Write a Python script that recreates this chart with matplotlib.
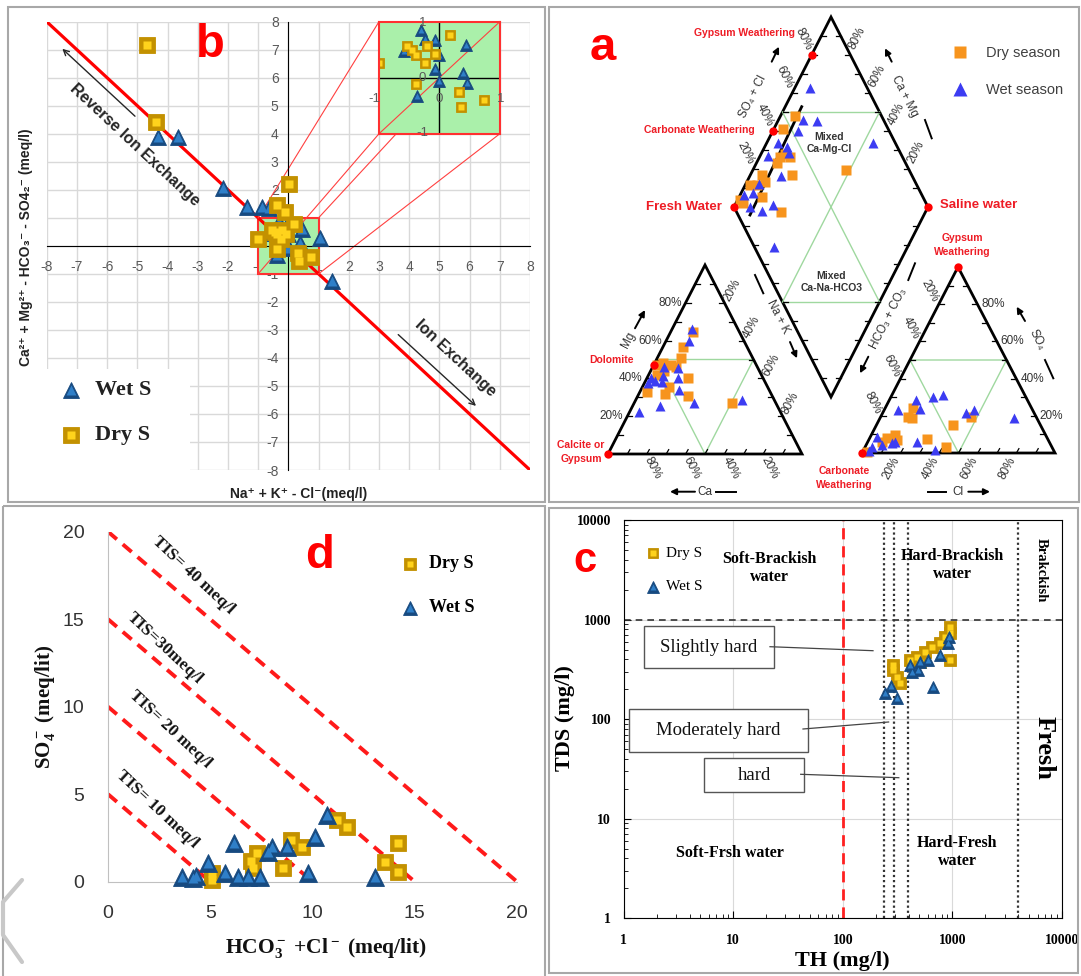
import numpy as np
import matplotlib.pyplot as plt
from matplotlib.patches import Rectangle, Polygon
from matplotlib.ticker import NullFormatter

plt.rcParams['axes.unicode_minus'] = False
plt.rcParams['mathtext.fontset'] = 'custom'
plt.rcParams['mathtext.rm'] = 'Liberation Serif:bold'
plt.rcParams['mathtext.it'] = 'Liberation Serif:bold'
plt.rcParams['mathtext.bf'] = 'Liberation Serif:bold'

W, H = 1081, 976

# ---- panel b: ion exchange (meq/l)
b_dry_x = [-4.69, -4.38, 0.03, -0.36, -0.11, -1.00, -0.54, -0.45, -0.39, -0.20, -0.08, -0.23, -0.39, 0.18, 0.32, 0.74, 0.35]
b_dry_y = [7.17, 4.43, 2.21, 1.46, 1.22, 0.26, 0.56, 0.50, 0.41, 0.56, 0.43, 0.26, -0.11, 0.77, -0.26, -0.39, -0.53]
b_wet_x = [-4.30, -3.64, -2.15, -1.38, -0.88, -0.65, 1.45, 1.04, -0.31, -0.23, -0.07, -0.59, 0.00, 0.44, -0.08, 0.00, 0.39, 0.46, -0.37]
b_wet_y = [3.88, 3.88, 2.06, 1.38, 1.38, 1.35, -1.27, 0.27, 0.85, 0.69, 0.67, 0.47, 0.41, 0.59, 0.15, -0.06, 0.09, -0.09, -0.33]

# ---- panel a: Piper diagram (percent of meq)
cat_dry_mg = [64.7, 56.4, 50.6, 47.0, 48.0, 47.0, 40.0, 35.6, 30.7, 33.0, 31.7, 26.8, 42.0, 44.0, 46.0]
cat_dry_na = [11.6, 10.6, 12.3, 1.6, 4.5, 9.0, 21.0, 13.7, 25.7, 3.4, 13.5, 50.4, 4.0, 7.0, 12.0]
cat_wet_mg = [66.0, 60.0, 45.9, 45.3, 40.0, 38.3, 40.4, 37.4, 41.2, 33.9, 25.6, 27.1, 28.6, 22.4, 38.7]
cat_wet_na = [10.2, 11.8, 5.9, 13.6, 2.2, 8.5, 15.7, 2.1, 7.7, 19.6, 14.2, 30.9, 54.6, 4.9, 5.0]

an_dry_so4 = [19.5, 24.0, 18.6, 15.0, 19.5, 7.4, 3.1, 9.7, 7.9, 7.0, 0.5, 6.1]
an_dry_cl = [14.2, 14.6, 16.4, 39.8, 47.0, 29.8, 42.0, 12.3, 8.9, 14.5, 2.4, 7.2]
an_wet_so4 = [28.5, 30.3, 31.2, 23.1, 23.5, 21.7, 23.1, 18.6, 6.1, 1.6, 5.2, 8.8, 3.4, 4.3, 1.0, 6.0]
an_wet_cl = [13.7, 21.8, 26.2, 7.3, 18.3, 43.0, 46.5, 69.6, 25.3, 37.0, 12.8, 3.2, 3.3, 8.0, 3.0, 14.0]

dia_dry_an = [55.4, 45.9, 37.0, 40.2, 42.1, 33.5, 38.2, 22.7, 14.0, 17.5, 22.6, 16.8, 5.0, 5.9, 22.8, 67.3]
dia_dry_na = [7.5, 5.0, 10.5, 12.3, 15.6, 10.5, 21.3, 5.8, 2.5, 5.9, 9.3, 11.7, 1.2, 3.7, 25.3, 47.9]
dia_wet_an = [70.4, 58.3, 65.3, 52.9, 88.4, 39.3, 43.4, 42.7, 31.1, 32.4, 8.3, 13.7, 8.3, 13.3, 20.5, 10.0, 19.0]
dia_wet_na = [8.0, 12.5, 20.0, 12.7, 54.6, 5.8, 11.6, 14.4, 4.3, 16.1, 2.0, 6.2, 8.3, 15.2, 19.5, 31.2, 7.0]

# ---- panel d: TIS plot (meq/lit)
d_dry_x = [5.07, 5.07, 7.10, 7.27, 7.00, 8.54, 8.93, 9.47, 11.18, 11.67, 13.55, 14.20, 14.20]
d_dry_y = [0.10, 0.48, 0.76, 1.62, 1.20, 0.76, 2.38, 2.00, 3.52, 3.14, 1.14, 2.19, 0.57]
d_wet_x = [3.60, 4.17, 4.30, 4.90, 5.72, 6.16, 6.37, 6.86, 7.43, 7.84, 8.00, 8.74, 9.79, 10.12, 10.69, 13.06]
d_wet_y = [0.29, 0.19, 0.35, 1.05, 0.48, 2.19, 0.29, 0.29, 0.29, 1.71, 2.00, 2.00, 0.48, 2.57, 3.81, 0.29]
d_tis_sum = [5, 10, 15, 20]
d_tis_labels = ['TIS= 10 meq/l', 'TIS= 20 meq/l', 'TIS=30meq/l', 'TIS= 40 meq/l']

# ---- panel c: TDS vs TH (mg/l)
c_dry_th = [951, 951, 856, 771, 647, 562, 472, 410, 951, 289, 289, 310, 333, 506]
c_dry_tds = [847, 727, 672, 577, 533, 475, 423, 392, 392, 349, 311, 267, 229, 377]
c_wet_th = [243, 274, 310, 425, 489, 410, 506, 603, 771, 918, 937, 670]
c_wet_tds = [182, 215, 162, 299, 311, 349, 377, 392, 440, 577, 672, 211]
c_th_bounds = [240, 295, 390, 4000]
c_soft_limit = 100
c_fresh_limit = 1000

SANS = ['Liberation Sans', 'DejaVu Sans']
SERIF = ['Liberation Serif', 'DejaVu Serif']
GOLD = ('#c39100', '#ffd31c')
BLUE = ('#174a80', '#2f7fc8')

fig = plt.figure(figsize=(W / 100, H / 100), dpi=100)


def px_axes(l, t, r, b, **kw):
    return fig.add_axes([l / W, 1 - b / H, (r - l) / W, (b - t) / H], **kw)


def ftxt(x, y, s, **kw):
    kw.setdefault('ha', 'center')
    kw.setdefault('va', 'center')
    return fig.text(x / W, 1 - y / H, s, **kw)


def bevel(ax, x, y, marker, ms, dark, light, **kw):
    ax.plot(x, y, ls='none', marker=marker, ms=ms, mfc=dark, mec=dark, mew=0.6, **kw)
    ax.plot(x, y, ls='none', marker=marker, ms=ms * 0.55, mfc=light, mec='none', **kw)


# ================= panel b =================
ax = px_axes(46.7, 21.7, 530, 470)
ax.set_xlim(-8, 8)
ax.set_ylim(-8, 8)
ax.set_xticks(np.arange(-8, 9))
ax.set_yticks(np.arange(-8, 9))
ax.grid(color='#d9d9d9', lw=1)
ax.set_axisbelow(True)
ax.spines[['top', 'right']].set_visible(False)
ax.spines['left'].set_position(('data', 0))
ax.spines['bottom'].set_position(('data', 0))
ax.tick_params(length=0, labelsize=10, labelcolor='#595959', labelfontfamily=SANS)
ax.tick_params(axis='x', pad=10)
ax.tick_params(axis='y', pad=7)

ax.add_patch(Rectangle((-1, -1), 2, 2, fc='#aaf0aa', ec='#ff3030', lw=1.5, zorder=1.5))
ax.plot([-8, 8], [8, -8], color='#ff0000', lw=2.3, zorder=2)
for (x0, y0), (x1, y1) in [((-1, 1), (3, 8)), ((1, 1), (7, 8)), ((-1, -1), (3, 4)), ((1, -1), (7, 4))]:
    ax.plot([x0, x1], [y0, y1], color='#ff4040', lw=0.8, zorder=2)
bevel(ax, b_wet_x, b_wet_y, '^', 12, *BLUE, zorder=3)
bevel(ax, b_dry_x, b_dry_y, 's', 11.5, *GOLD, zorder=3)

# legend
ax.add_patch(Rectangle((-8, -8), 4.75, 3.6, fc='white', ec='none', zorder=1))
bevel(ax, [-7.2], [-5.14], '^', 12, *BLUE, zorder=3)
bevel(ax, [-7.2], [-6.74], 's', 11, *GOLD, zorder=3)
ax.text(-6.4, -5.14, 'Wet S', fontsize=16, weight='bold', family=SERIF, va='center', color='#222')
ax.text(-6.4, -6.74, 'Dry S', fontsize=16, weight='bold', family=SERIF, va='center', color='#222')

ax.text(-5.08, 3.6, 'Reverse Ion Exchange', rotation=-43, rotation_mode='anchor', ha='center',
        va='center', fontsize=11.5, weight='bold', color='#262626', family=SANS)
ax.annotate('', xy=(-7.55, 7.1), xytext=(-5.01, 4.56),
            arrowprops=dict(arrowstyle='->', color='#262626', lw=1))
ax.text(5.54, -4.0, 'Ion Exchange', rotation=-43, rotation_mode='anchor', ha='center',
        va='center', fontsize=11.5, weight='bold', color='#262626', family=SANS)
ax.annotate('', xy=(6.28, -5.78), xytext=(3.57, -3.1),
            arrowprops=dict(arrowstyle='->', color='#262626', lw=1))

# zoomed window of the [-1, 1] square
axin = ax.inset_axes([3, 4, 4, 4], transform=ax.transData, zorder=4)
axin.set_xlim(-1, 1)
axin.set_ylim(-1, 1)
axin.set_facecolor('#aaf0aa')
for s in axin.spines.values():
    s.set_color('#ff3030')
    s.set_linewidth(1.5)
axin.set_xticks([])
axin.set_yticks([])
axin.axhline(0, color='k', lw=1)
axin.axvline(0, color='k', lw=1)
axin.plot([-1, 1], [-1, 1], color='#ff4040', lw=0.8)
bx, by = np.array(b_wet_x), np.array(b_wet_y)
m = (np.abs(bx) <= 1) & (np.abs(by) <= 1)
bevel(axin, bx[m], by[m], '^', 8, *BLUE)
bx, by = np.array(b_dry_x), np.array(b_dry_y)
m = (np.abs(bx) <= 1) & (np.abs(by) <= 1)
bevel(axin, bx[m], by[m], 's', 7, *GOLD)
for x, y, s in [(-0.28, 0.97, '1'), (-0.28, 0.0, '0'), (-0.28, -0.99, '-1'),
                (-1.08, -0.38, '-1'), (0.0, -0.38, '0'), (1.02, -0.38, '1')]:
    axin.text(x, y, s, fontsize=9.5, color='#595959', family=SANS, ha='center', va='center', clip_on=False)

ftxt(210, 45, 'b', color='#ff0000', fontsize=34, weight='bold', family=SANS)
ftxt(26, 247, 'Ca²⁺ + Mg²⁺ - HCO₃⁻ - SO4₂⁻ (meq/l)', rotation=90, fontsize=10, weight='bold', family=SANS, color='#222')
ftxt(299, 494, 'Na⁺ + K⁺ - Cl⁻(meq/l)', fontsize=10, weight='bold', family=SANS, color='#222')

# ================= panel d =================
axd = px_axes(108, 531.7, 517, 881.7)
axd.set_xlim(0, 20)
axd.set_ylim(0, 20)
axd.spines[['top', 'right']].set_visible(False)
for s in ['left', 'bottom']:
    axd.spines[s].set_color('#c0c0c0')
axd.set_xticks(np.arange(0, 21, 5))
axd.set_yticks(np.arange(0, 21, 5))
axd.tick_params(length=0, labelsize=14, labelcolor='#333', labelfontfamily=SANS)
axd.tick_params(axis='x', pad=17)
axd.tick_params(axis='y', pad=17)
for s in d_tis_sum:
    axd.plot([0, s], [s, 0], color='#ff1a1a', lw=2.8, ls=(0, (3, 2)), zorder=2)
bevel(axd, d_dry_x, d_dry_y, 's', 11.5, *GOLD, zorder=3, clip_on=False)
bevel(axd, d_wet_x, d_wet_y, '^', 13, *BLUE, zorder=3, clip_on=False)

for (x, y), s in zip([(157, 809), (170, 729), (165, 648), (193, 575)], d_tis_labels):
    ftxt(x, y, s, rotation=-43, rotation_mode='anchor', fontsize=12.5, weight='bold', family=SERIF, color='#111')
ftxt(320, 556, 'd', color='#ff0000', fontsize=34, weight='bold', family=SANS)
ftxt(45, 707, r'SO$_4^-$ (meq/lit)', rotation=90, fontsize=15, weight='bold', family=SERIF, color='#111')
ftxt(326, 948, r'HCO$_3^-$ +Cl$^-$ (meq/lit)', fontsize=15.5, weight='bold', family=SERIF, color='#111')

# ================= panel c =================
axc = px_axes(623.6, 520, 1062, 918.3)
axc.set_xscale('log')
axc.set_yscale('log')
axc.set_xlim(1, 1e4)
axc.set_ylim(1, 1e4)
dec = [1, 10, 100, 1000, 10000]
axc.set_xticks(dec, labels=[str(v) for v in dec], fontsize=10, fontweight='bold', fontfamily=SERIF)
axc.set_yticks(dec, labels=[str(v) for v in dec], fontsize=10, fontweight='bold', fontfamily=SERIF)
axc.xaxis.set_minor_formatter(NullFormatter())
axc.yaxis.set_minor_formatter(NullFormatter())
axc.tick_params(which='both', direction='in')
axc.tick_params(which='major', length=5)
axc.tick_params(which='minor', length=3)
axc.tick_params(axis='x', which='major', pad=11)
axc.tick_params(axis='y', which='major', pad=9)
axc.grid(which='major', color='#d9d9d9', lw=0.8)
axc.set_axisbelow(True)
for v in c_th_bounds:
    axc.axvline(v, color='#333', ls=(0, (1, 1.3)), lw=1.6, zorder=2)
axc.axvline(c_soft_limit, color='#ff2020', ls=(0, (4, 2.5)), lw=2, zorder=2)
axc.axhline(c_fresh_limit, color='#333', ls=(0, (4, 3)), lw=1.2, zorder=2)
bevel(axc, c_dry_th, c_dry_tds, 's', 8, *GOLD, zorder=3)
bevel(axc, c_wet_th, c_wet_tds, '^', 9, *BLUE, zorder=3)

ftxt(585, 561, 'c', color='#ff0000', fontsize=30, weight='bold', family=SANS)
ftxt(769, 568, 'Soft-Brackish\nwater', fontsize=11.5, weight='bold', family=SERIF, linespacing=1.1)
ftxt(952, 565, 'Hard-Brackish\nwater', fontsize=11.5, weight='bold', family=SERIF, linespacing=1.1)
ftxt(1041, 570, 'Brakckish', rotation=-90, fontsize=10.5, weight='bold', family=SERIF)
ftxt(1044, 748, 'Fresh', rotation=-90, fontsize=19, weight='bold', family=SERIF)
ftxt(730, 853, 'Soft-Frsh water', fontsize=11.5, weight='bold', family=SERIF)
ftxt(957, 852, 'Hard-Fresh\nwater', fontsize=11.5, weight='bold', family=SERIF, linespacing=1.1)
ftxt(565, 718, 'TDS (mg/l)', rotation=90, fontsize=16, weight='bold', family=SERIF)
ftxt(842, 961, 'TH (mg/l)', fontsize=16, weight='bold', family=SERIF)

# ================= overlay (pixel coordinates) =================
ov = fig.add_axes([0, 0, 1, 1], zorder=10)
ov.set_xlim(0, W)
ov.set_ylim(H, 0)
ov.axis('off')
ov.patch.set_alpha(0)

# panel frames
for l, t, r, b in [(8, 7, 545, 502), (549, 7, 1079, 502), (3, 506, 545, 990), (549, 508, 1078, 973)]:
    ov.add_patch(Rectangle((l, t), r - l, b - t, fill=False, ec='#a8a8a8', lw=1.5))
ov.plot([22, 3, 3, 22], [880, 902, 935, 962], color='#c8c8c8', lw=3, solid_capstyle='round')

# hardness boxes in panel c
for (l, t, r, b), s, (x0, y0, x1, y1) in [
        ((643.5, 626, 774, 668), 'Slightly hard', (770, 646.7, 873, 650.7)),
        ((629.4, 709, 807.6, 752.3), 'Moderately hard', (803, 729, 888.6, 722)),
        ((704.3, 758.3, 803.8, 791.7), 'hard', (800.7, 774.3, 898.8, 777.7))]:
    ov.add_patch(Rectangle((l, t), r - l, b - t, fc='white', ec='#555', lw=1))
    ov.text((l + r) / 2, (t + b) / 2, s, fontsize=13.5, family=SERIF, ha='center', va='center', color='#111')
    ov.plot([x0, x1], [y0, y1], color='#444', lw=0.9)

# legends of c and d
bevel(ov, [652.7], [553.3], 's', 7, *GOLD)
bevel(ov, [652.7], [586.7], '^', 8, *BLUE)
ov.text(666, 553.3, 'Dry S', fontsize=11, family=SERIF, va='center')
ov.text(666, 586.7, 'Wet S', fontsize=11, family=SERIF, va='center')
bevel(ov, [410], [564], 's', 9, *GOLD)
bevel(ov, [410], [608], '^', 10, *BLUE)
ov.text(429, 564, 'Dry S', fontsize=13, weight='bold', family=SERIF, va='center')
ov.text(429, 608, 'Wet S', fontsize=13, weight='bold', family=SERIF, va='center')

# ================= panel a: Piper diagram =================
CL_BL, CL_BR, CL_T = np.array([608, 454.]), np.array([802, 454.]), np.array([705, 265.])
AN_BL, AN_BR, AN_T = np.array([862, 453.]), np.array([1055, 453.]), np.array([958, 267.])
D_L, D_T, D_R, D_B = np.array([734, 207.]), np.array([831, 17.]), np.array([928, 207.]), np.array([831, 397.])


def cat_xy(mg, na):
    mg, na = np.asarray(mg)[:, None] / 100, np.asarray(na)[:, None] / 100
    p = (1 - mg - na) * CL_BL + na * CL_BR + mg * CL_T
    return p[:, 0], p[:, 1]


def an_xy(so4, cl):
    so4, cl = np.asarray(so4)[:, None] / 100, np.asarray(cl)[:, None] / 100
    p = (1 - so4 - cl) * AN_BL + cl * AN_BR + so4 * AN_T
    return p[:, 0], p[:, 1]


def dia_xy(an, na):
    an, na = np.asarray(an)[:, None] / 100, np.asarray(na)[:, None] / 100
    p = D_L + an * (D_T - D_L) + na * (D_B - D_L)
    return p[:, 0], p[:, 1]


def mid(p, q):
    return (p + q) / 2


for pts in [(CL_BL, CL_BR, CL_T), (AN_BL, AN_BR, AN_T)]:
    a, b, c = pts
    tri = [mid(a, c), mid(c, b), mid(a, b)]
    ov.add_patch(Polygon(tri, closed=True, fill=False, ec='#9fd89f', lw=1))
ul, ur, ll, lr = mid(D_L, D_T), mid(D_T, D_R), mid(D_L, D_B), mid(D_B, D_R)
for p, q in [(ul, ur), (ll, lr), (ul, lr), (ur, ll)]:
    ov.plot([p[0], q[0]], [p[1], q[1]], color='#9fd89f', lw=1)


def edge_ticks(p, q, d):
    for f in np.arange(0.1, 1.0, 0.1):
        s = p + f * (q - p)
        ov.plot([s[0], s[0] + d[0]], [s[1], s[1] + d[1]], color='k', lw=0.9)


slope = np.array([0.5, -0.87]) * 5
edge_ticks(CL_BL, CL_T, (5, 0))
edge_ticks(CL_T, CL_BR, (-5, 0))
edge_ticks(CL_BL, CL_BR, slope)
edge_ticks(AN_BL, AN_T, (5, 0))
edge_ticks(AN_T, AN_BR, (-5, 0))
edge_ticks(AN_BL, AN_BR, slope)
edge_ticks(D_L, D_T, (5, 0))
edge_ticks(D_T, D_R, (-5, 0))
edge_ticks(D_L, D_B, (5, 0))
edge_ticks(D_B, D_R, (-5, 0))

for pts in [(CL_BL, CL_BR, CL_T), (AN_BL, AN_BR, AN_T), (D_L, D_T, D_R, D_B)]:
    ov.add_patch(Polygon(pts, closed=True, fill=False, ec='k', lw=2, joinstyle='miter'))
ov.plot([750, 801.7], [215, 106.7], color='k', lw=2)


def edge_labels(p, q, off, rot, ha='center'):
    for v in [20, 40, 60, 80]:
        s = p + v / 100 * (q - p)
        ov.text(s[0] + off[0], s[1] + off[1], f'{v}%', fontsize=8.5, color='#333', family=SANS,
                rotation=rot, ha=ha, va='center', rotation_mode='anchor' if ha == 'center' else 'default')


edge_labels(CL_BL, CL_T, (-4, 0), 0, 'right')
edge_labels(CL_BR, CL_BL, (6, 14), -62)
edge_labels(CL_T, CL_BR, (8, -13), 62)
edge_labels(AN_T, AN_BL, (-9, -13), -62)
edge_labels(AN_BR, AN_T, (4, 0), 0, 'left')
edge_labels(AN_BL, AN_BR, (-9, 15), 62)
edge_labels(D_L, D_T, (-8, -16), -63)
edge_labels(D_R, D_T, (7, -17), 63)

# axis names with arrows
def arrow(x0, y0, x1, y1):
    ov.annotate('', xy=(x1, y1), xytext=(x0, y0),
                arrowprops=dict(arrowstyle='-|>', color='k', lw=1.4, mutation_scale=9, shrinkA=0, shrinkB=0))


def dash(x0, y0, x1, y1):
    ov.plot([x0, x1], [y0, y1], color='k', lw=1.4)


ov.text(753.3, 96.7, 'SO₄ + Cl', rotation=63, fontsize=8.5, family=SANS, ha='center', va='center', color='#333')
arrow(771.7, 61.7, 779, 46.7)
ov.text(905, 96.7, 'Ca + Mg', rotation=-63, fontsize=8.5, family=SANS, ha='center', va='center', color='#333')
arrow(891.7, 61.7, 885, 48.3)
dash(925, 120, 931.7, 138.3)
ov.text(777.5, 316.7, 'Na + K', rotation=-63, fontsize=8.5, family=SANS, ha='center', va='center', color='#333')
dash(755, 275, 763.3, 293.3)
arrow(790, 342, 797, 358.3)
ov.text(888.3, 318.3, 'HCO₃ + CO₃', rotation=63, fontsize=8.5, family=SANS, ha='center', va='center', color='#333')
dash(908.3, 280, 915, 263.3)
arrow(868.3, 356.7, 860, 373.3)
ov.text(628.3, 340, 'Mg', rotation=63, fontsize=8.5, family=SANS, ha='center', va='center', color='#333')
arrow(635, 328.3, 645, 310)
ov.text(1036.7, 340, 'SO₄', rotation=-63, fontsize=8.5, family=SANS, ha='center', va='center', color='#333')
arrow(1025, 321, 1016.7, 306.7)
dash(1045, 360, 1053.3, 378.3)
ov.text(705, 491.7, 'Ca', fontsize=8.5, family=SANS, ha='center', va='center', color='#333')
arrow(695, 491.7, 670, 491.7)
dash(716, 491.7, 736, 491.7)
ov.text(958.3, 491.7, 'Cl', fontsize=8.5, family=SANS, ha='center', va='center', color='#333')
dash(928.3, 491.7, 946, 491.7)
arrow(968.3, 491.7, 990, 491.7)

# key water types
ov.text(829, 143, 'Mixed\nCa-Mg-Cl', fontsize=7.5, weight='bold', family=SANS, ha='center', va='center', color='#333', linespacing=1.3)
ov.text(831.5, 282, 'Mixed\nCa-Na-HCO3', fontsize=7.5, weight='bold', family=SANS, ha='center', va='center', color='#333', linespacing=1.3)

x, y = cat_xy(cat_dry_mg, cat_dry_na)
ov.plot(x, y, 's', ms=6.5, color='#f7941d', mec='none')
x, y = an_xy(an_dry_so4, an_dry_cl)
ov.plot(x, y, 's', ms=6.5, color='#f7941d', mec='none')
x, y = dia_xy(dia_dry_an, dia_dry_na)
ov.plot(x, y, 's', ms=6.5, color='#f7941d', mec='none')
x, y = cat_xy(cat_wet_mg, cat_wet_na)
ov.plot(x, y, '^', ms=7.5, color='#3c3cf2', mec='none')
x, y = an_xy(an_wet_so4, an_wet_cl)
ov.plot(x, y, '^', ms=7.5, color='#3c3cf2', mec='none')
x, y = dia_xy(dia_wet_an, dia_wet_na)
ov.plot(x, y, '^', ms=7.5, color='#3c3cf2', mec='none')

# end members
RED = '#ee1c25'
gyp = D_L + 0.8 * (D_T - D_L)
carb = D_L + 0.4 * (D_T - D_L)
dolo = CL_BL + 0.47 * (CL_T - CL_BL)
for p in [gyp, carb, D_L, D_R, AN_T, AN_BL, CL_BL, dolo]:
    ov.plot(p[0], p[1], 'o', ms=6, color='#ff0000', mec='none')
ov.text(795, 33, 'Gypsum Weathering', fontsize=7.5, weight='bold', family=SANS, ha='right', va='center', color=RED)
ov.text(755, 130, 'Carbonate Weathering', fontsize=7.5, weight='bold', family=SANS, ha='right', va='center', color=RED)
ov.text(722, 207, 'Fresh Water', fontsize=9.5, weight='bold', family=SANS, ha='right', va='center', color=RED)
ov.text(940, 205, 'Saline water', fontsize=9.5, weight='bold', family=SANS, ha='left', va='center', color=RED)
ov.text(962, 245, 'Gypsum\nWeathering', fontsize=7.5, weight='bold', family=SANS, ha='center', va='center', color=RED, linespacing=1.4)
ov.text(844, 478, 'Carbonate\nWeathering', fontsize=7.5, weight='bold', family=SANS, ha='center', va='center', color=RED, linespacing=1.4)
ov.text(612, 360, 'Dolomite', fontsize=7.5, weight='bold', family=SANS, ha='center', va='center', color=RED)
ov.text(581, 452, 'Calcite or\nGypsum', fontsize=7.5, weight='bold', family=SANS, ha='center', va='center', color=RED, linespacing=1.4)

ov.plot(960, 52, 's', ms=8.5, color='#f7941d', mec='none')
ov.plot(960, 89, '^', ms=10, color='#3c3cf2', mec='none')
ov.text(986, 53, 'Dry season', fontsize=10.5, family=SANS, va='center', color='#404040')
ov.text(986, 90, 'Wet season', fontsize=10.5, family=SANS, va='center', color='#404040')
ov.text(603, 48, 'a', fontsize=34, weight='bold', family=SANS, ha='center', va='center', color='#ff0000')

fig.savefig('out.png', dpi=100)
